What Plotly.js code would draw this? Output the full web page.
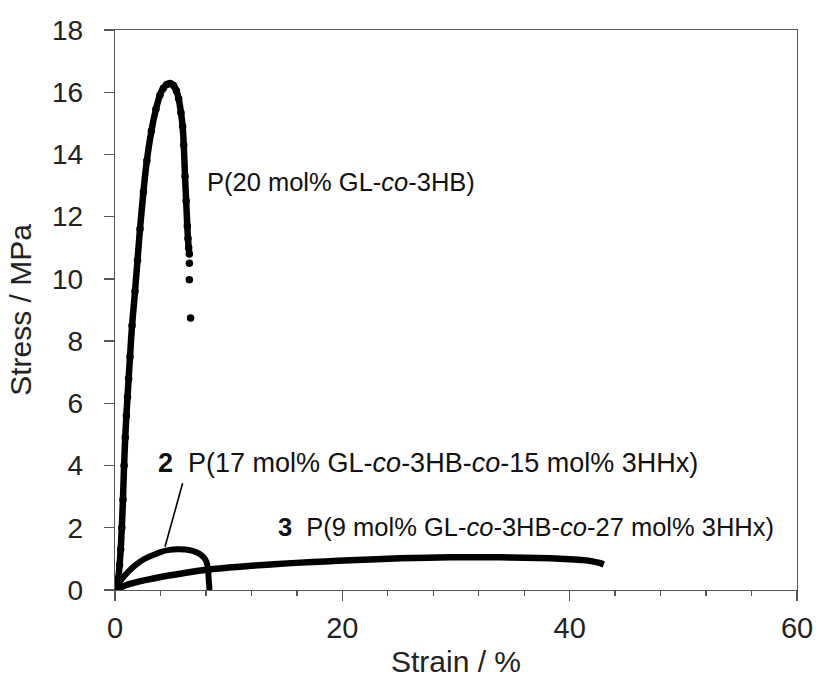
<!DOCTYPE html>
<html>
<head>
<meta charset="utf-8">
<script src="https://cdn.plot.ly/plotly-3.0.1.min.js"></script>
<style>
  html, body { margin: 0; padding: 0; background: #fff; }
  #chart { width: 819px; height: 688px; }
</style>
</head>
<body>
<div id="chart"></div>
<script>
// Curve 1: P(20 mol% GL-co-3HB)
const strain1 = [0, 0.15, 0.3, 0.4, 0.5, 0.6, 0.7, 0.8, 0.9, 1.0, 1.1, 1.2, 1.32, 1.5, 1.76, 1.98, 2.2, 2.5, 2.8, 3.2, 3.6, 3.95, 4.25, 4.55, 4.85, 5.15, 5.4, 5.6, 5.8, 5.95, 6.05, 6.16, 6.26, 6.36, 6.42, 6.48, 6.54, 6.54, 6.54, 6.65];
const stress1 = [0, 0.15, 0.4, 0.8, 1.3, 2.0, 2.9, 4.0, 4.9, 5.6, 6.2, 6.8, 7.5, 8.5, 9.6, 10.6, 11.6, 12.8, 13.8, 14.75, 15.45, 15.9, 16.13, 16.25, 16.28, 16.22, 16.05, 15.8, 15.35, 14.9, 14.3, 13.3, 12.5, 11.7, 11.3, 11.0, 10.8, 10.5, 9.97, 8.74];
const tailCount1 = 3; // last sparse dots drawn as markers only

// Curve 2: P(17 mol% GL-co-3HB-co-15 mol% 3HHx)
const strain2 = [0, 0.3, 0.7, 1.2, 1.8, 2.5, 3.2, 4.0, 4.8, 5.5, 6.2, 6.9, 7.4, 7.8, 8.05, 8.2, 8.25, 8.3, 8.3];
const stress2 = [0, 0.2, 0.4, 0.6, 0.8, 0.98, 1.1, 1.22, 1.29, 1.31, 1.3, 1.25, 1.17, 1.05, 0.9, 0.6, 0.3, 0.1, 0];

// Curve 3: P(9 mol% GL-co-3HB-co-27 mol% 3HHx)
const strain3 = [0, 0.5, 1.0, 2.0, 3.0, 4.5, 6.0, 8.0, 10.0, 12.0, 14.0, 16.3, 18.5, 20.7, 23.0, 25.1, 27.5, 29.5, 31.5, 33.9, 36.0, 38.3, 40.0, 41.2, 42.0, 42.7, 43.0];
const stress3 = [0, 0.08, 0.16, 0.26, 0.34, 0.45, 0.54, 0.65, 0.72, 0.78, 0.83, 0.88, 0.92, 0.96, 0.99, 1.02, 1.04, 1.05, 1.05, 1.05, 1.04, 1.02, 0.99, 0.96, 0.92, 0.86, 0.82];

// Labels: [strain, stress, text, font size]
const label1 = [7.95, 13.1, 'P(20 mol% GL-<i>co</i>-3HB)', 25.5];
const label2 = [3.65, 4.07, '<b>2</b>\u00a0\u00a0P(17 mol% GL-<i>co</i>-3HB-<i>co</i>-15 mol% 3HHx)', 27];
const label3 = [14.2, 2.04, '<b>3</b>\u00a0\u00a0P(9 mol% GL-<i>co</i>-3HB-<i>co</i>-27 mol% 3HHx)', 25.5];
const pointer2 = [[4.4, 1.39], [5.95, 3.43]];

const xTicks = [0, 20, 40, 60];
const yTicks = [0, 2, 4, 6, 8, 10, 12, 14, 16, 18];

const FONT = 'Liberation Sans, Arial, Helvetica, sans-serif';
const bodyEnd = strain1.length - tailCount1;

const traces = [
  { x: strain3, y: stress3, mode: 'lines', line: { color: '#000', width: 6.5, shape: 'spline', smoothing: 0.6 }, hoverinfo: 'skip' },
  { x: strain2, y: stress2, mode: 'lines', line: { color: '#000', width: 6, shape: 'spline', smoothing: 0.6 }, hoverinfo: 'skip' },
  { x: strain1.slice(0, bodyEnd), y: stress1.slice(0, bodyEnd), mode: 'lines', line: { color: '#000', width: 6.5, shape: 'spline', smoothing: 0.6 }, hoverinfo: 'skip' },
  { x: strain1, y: stress1, mode: 'markers', marker: { color: '#000', size: 7.5 }, hoverinfo: 'skip' }
];

const axisCommon = {
  showgrid: false, zeroline: false, showline: true, linecolor: '#555', linewidth: 1.3,
  mirror: true, ticks: 'outside', tickcolor: '#555', tickwidth: 1.3, ticklen: 10
};

const layout = {
  width: 819, height: 688,
  margin: { l: 115, r: 22, t: 30, b: 98 },
  paper_bgcolor: '#fff', plot_bgcolor: '#fff',
  showlegend: false,
  font: { family: FONT, color: '#222' },
  xaxis: Object.assign({}, axisCommon, {
    range: [0, 60], tickvals: xTicks, ticktext: xTicks.map(String),
    tickfont: { family: FONT, size: 29, color: '#222' },
    minor: { dtick: 4, tick0: 0, ticks: 'outside', ticklen: 5, tickcolor: '#555', tickwidth: 1.3 },
    ticklabelstandoff: 2,
    title: { text: 'Strain / %', font: { family: FONT, size: 30, color: '#222' }, standoff: 8 }
  }),
  yaxis: Object.assign({}, axisCommon, {
    range: [0, 18], tickvals: yTicks, ticktext: yTicks.map(String),
    tickfont: { family: FONT, size: 28, color: '#222' },
    ticklabelstandoff: 15,
    title: { text: 'Stress / MPa', font: { family: FONT, size: 30, color: '#222' }, standoff: 11 }
  }),
  shapes: [
    { type: 'line', xref: 'x', yref: 'y', x0: pointer2[0][0], y0: pointer2[0][1], x1: pointer2[1][0], y1: pointer2[1][1], line: { color: '#000', width: 1.6 } }
  ],
  annotations: [label1, label2, label3].map(l => ({
    x: l[0], y: l[1], xref: 'x', yref: 'y', text: l[2], showarrow: false,
    xanchor: 'left', yanchor: 'middle', font: { family: FONT, size: l[3], color: '#111' }
  }))
};

Plotly.newPlot('chart', traces, layout, { staticPlot: true, displayModeBar: false });
</script>
</body>
</html>
